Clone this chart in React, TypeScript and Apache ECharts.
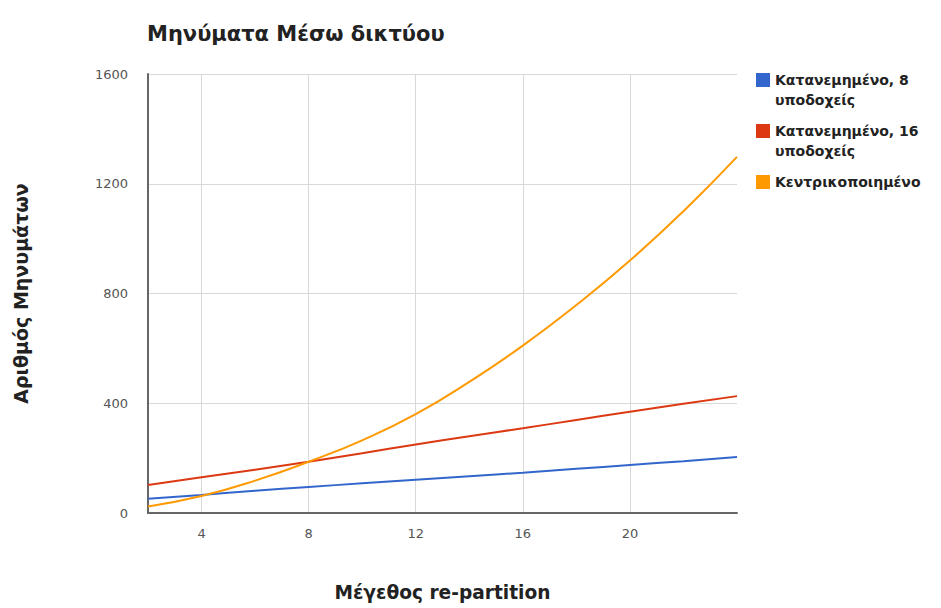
import React, { useEffect, useRef } from "react";
import * as echarts from "echarts";

const xValues = [2, 4, 6, 8, 10, 12, 14, 16, 18, 20, 22, 24];
const distributed8 = [52, 66, 81, 95, 108, 121, 134, 147, 161, 175, 189, 204];
const distributed16 = [102, 130, 158, 187, 218, 250, 280, 309, 339, 369, 398, 426];
const centralized = [24, 62, 118, 187, 265, 360, 478, 610, 758, 920, 1100, 1298];
const xTicks = [4, 8, 12, 16, 20];
const seriesNames = ["Κατανεμημένο, 8 υποδοχείς", "Κατανεμημένο, 16 υποδοχείς", "Κεντρικοποιημένο"];
const colors = ["#3366cc", "#dc3912", "#ff9900"];

const FONT = "'DejaVu Sans', Verdana, sans-serif";

export default function App() {
  const ref = useRef<HTMLDivElement>(null);
  useEffect(() => {
    document.body.style.margin = "0";
    const chart = echarts.init(ref.current!, undefined, { renderer: "svg" });
    const pair = (ys: number[]) => xValues.map((x, i) => [x, ys[i]]);
    chart.setOption({
      animation: false,
      backgroundColor: "#ffffff",
      textStyle: { fontFamily: FONT },
      title: {
        text: "Μηνύματα Μέσω δικτύου",
        left: 147,
        top: 23,
        padding: 0,
        textStyle: { fontFamily: FONT, fontSize: 21, fontWeight: "bold", color: "#222" },
      },
      legend: {
        orient: "vertical",
        left: 756,
        top: 53,
        padding: 0,
        itemWidth: 14,
        itemHeight: 14,
        itemGap: -3,
        icon: "rect",
        formatter: (name: string) => {
          const idx = name.indexOf(" υποδοχείς");
          if (idx >= 0) {
            return "{p| }\n{t|" + name.slice(0, idx) + "}\n{t|υποδοχείς}";
          }
          return "{p| }\n{t|" + name + "}\n{p| }";
        },
        textStyle: {
          fontFamily: FONT, fontSize: 14, fontWeight: "bold", color: "#222",
          rich: {
            t: { fontFamily: FONT, fontSize: 14, fontWeight: "bold", color: "#222", lineHeight: 20 },
            p: { fontSize: 14, lineHeight: 20 },
          },
        },
      },
      grid: { left: 148, right: 204, top: 74, bottom: 95 },
      xAxis: {
        type: "value",
        min: 2,
        max: 24,
        name: "Μέγεθος re-partition",
        nameLocation: "middle",
        nameGap: 70,
        nameTextStyle: { fontFamily: FONT, fontSize: 18.6, fontWeight: "bold", color: "#222" },
        axisLine: { show: true, lineStyle: { color: "#666", width: 2 } },
        axisTick: { show: false, customValues: xTicks },
        axisLabel: { customValues: xTicks, color: "#555", fontSize: 13, margin: 14 },
        splitLine: { show: true, lineStyle: { color: "#d9d9d9", width: 1 } },
      },
      yAxis: {
        type: "value",
        min: 0,
        max: 1600,
        interval: 400,
        name: "Αριθμός Μηνυμάτων",
        nameLocation: "middle",
        nameGap: 118,
        nameTextStyle: { fontFamily: FONT, fontSize: 19, fontWeight: "bold", color: "#222" },
        axisLine: { show: true, lineStyle: { color: "#666", width: 2 } },
        axisTick: { show: false },
        axisLabel: { color: "#555", fontSize: 13, margin: 20, formatter: (v: number) => String(v) },
        splitLine: { show: true, lineStyle: { color: "#d9d9d9", width: 1 } },
      },
      series: [
        { name: seriesNames[0], type: "line", data: pair(distributed8), showSymbol: false, smooth: true, color: colors[0], lineStyle: { width: 2 } },
        { name: seriesNames[1], type: "line", data: pair(distributed16), showSymbol: false, smooth: true, color: colors[1], lineStyle: { width: 2 } },
        { name: seriesNames[2], type: "line", data: pair(centralized), showSymbol: false, smooth: true, color: colors[2], lineStyle: { width: 2 } },
      ],
    });
    return () => chart.dispose();
  }, []);
  return <div ref={ref} style={{ width: 941, height: 608 }} />;
}
